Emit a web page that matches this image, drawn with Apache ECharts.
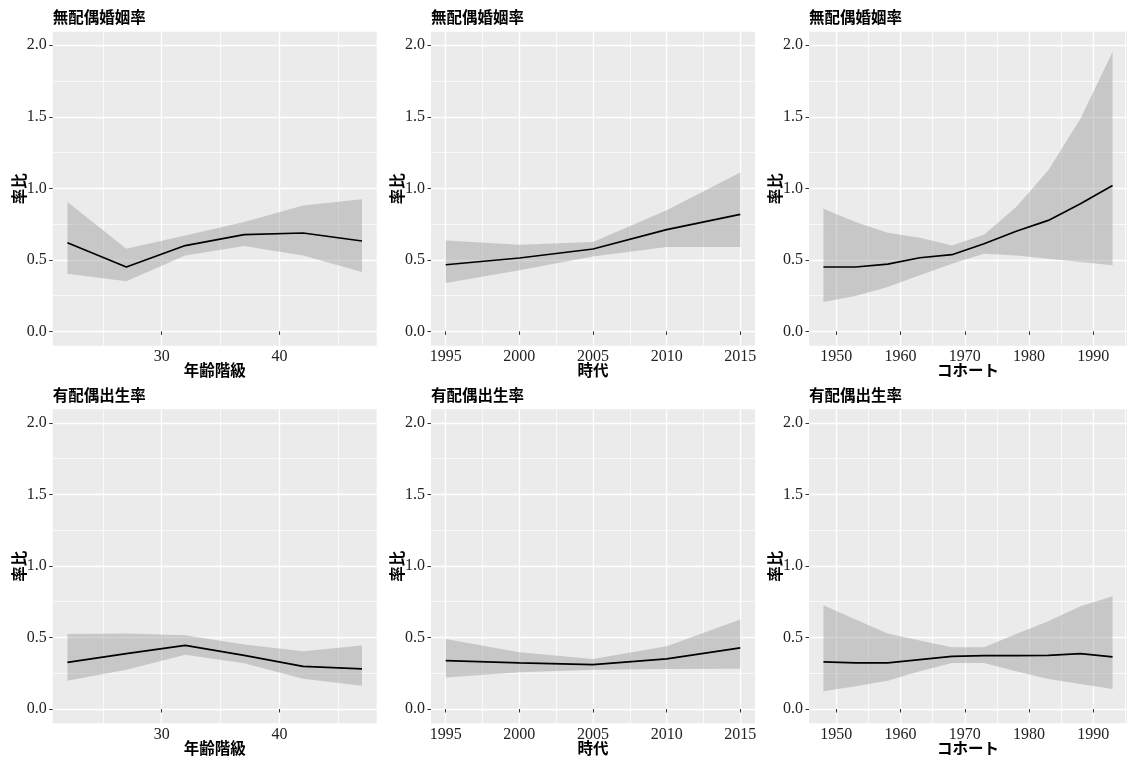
<!DOCTYPE html>
<html>
<head>
<meta charset="utf-8">
<script src="https://cdn.jsdelivr.net/npm/echarts@6/dist/echarts.min.js"></script>
<style>
  html, body { margin: 0; padding: 0; background: #fff; }
  #main { width: 1127px; height: 760px; }
</style>
</head>
<body>
<div id="main"></div>
<script>
// x values
var ages = [22, 27, 32, 37, 42, 47];
var periods = [1995, 2000, 2005, 2010, 2015];
var cohorts = [1948, 1953, 1958, 1963, 1968, 1973, 1978, 1983, 1988, 1993];

// tick labels
var ageTicks = [30, 40];
var periodTicks = [1995, 2000, 2005, 2010, 2015];
var cohortTicks = [1950, 1960, 1970, 1980, 1990];
var yTicks = [0, 0.5, 1, 1.5, 2];

// 無配偶婚姻率
var marAgeFit = [0.62, 0.45, 0.60, 0.676, 0.688, 0.632];
var marAgeHi  = [0.904, 0.578, 0.67, 0.765, 0.88, 0.923];
var marAgeLo  = [0.403, 0.35, 0.53, 0.597, 0.53, 0.415];

var marPerFit = [0.466, 0.513, 0.576, 0.711, 0.818];
var marPerHi  = [0.636, 0.606, 0.625, 0.846, 1.11];
var marPerLo  = [0.338, 0.427, 0.524, 0.59, 0.59];

var marCohFit = [0.45, 0.45, 0.47, 0.515, 0.536, 0.613, 0.70, 0.776, 0.893, 1.02];
var marCohHi  = [0.858, 0.765, 0.69, 0.655, 0.60, 0.676, 0.87, 1.126, 1.487, 1.953];
var marCohLo  = [0.205, 0.247, 0.31, 0.392, 0.473, 0.543, 0.531, 0.508, 0.485, 0.462];

// 有配偶出生率
var ferAgeFit = [0.326, 0.387, 0.445, 0.375, 0.298, 0.28];
var ferAgeHi  = [0.524, 0.527, 0.515, 0.45, 0.403, 0.443];
var ferAgeLo  = [0.198, 0.275, 0.38, 0.32, 0.212, 0.163];

var ferPerFit = [0.338, 0.322, 0.31, 0.35, 0.427];
var ferPerHi  = [0.49, 0.396, 0.35, 0.438, 0.625];
var ferPerLo  = [0.221, 0.256, 0.275, 0.28, 0.282];

var ferCohFit = [0.329, 0.322, 0.322, 0.345, 0.368, 0.373, 0.373, 0.375, 0.387, 0.364];
var ferCohHi  = [0.725, 0.625, 0.527, 0.478, 0.431, 0.431, 0.524, 0.613, 0.718, 0.788];
var ferCohLo  = [0.124, 0.159, 0.198, 0.263, 0.322, 0.322, 0.263, 0.21, 0.175, 0.14];

var panels = [
  { title: '無配偶婚姻率', xName: '年齢階級', x: ages, ticks: ageTicks, fit: marAgeFit, hi: marAgeHi, lo: marAgeLo, min: 20.75, max: 48.25, step: 10 },
  { title: '無配偶婚姻率', xName: '時代', x: periods, ticks: periodTicks, fit: marPerFit, hi: marPerHi, lo: marPerLo, min: 1994, max: 2016, step: 5 },
  { title: '無配偶婚姻率', xName: 'コホート', x: cohorts, ticks: cohortTicks, fit: marCohFit, hi: marCohHi, lo: marCohLo, min: 1945.75, max: 1995.25, step: 10 },
  { title: '有配偶出生率', xName: '年齢階級', x: ages, ticks: ageTicks, fit: ferAgeFit, hi: ferAgeHi, lo: ferAgeLo, min: 20.75, max: 48.25, step: 10 },
  { title: '有配偶出生率', xName: '時代', x: periods, ticks: periodTicks, fit: ferPerFit, hi: ferPerHi, lo: ferPerLo, min: 1994, max: 2016, step: 5 },
  { title: '有配偶出生率', xName: 'コホート', x: cohorts, ticks: cohortTicks, fit: ferCohFit, hi: ferCohHi, lo: ferCohLo, min: 1945.75, max: 1995.25, step: 10 }
];

var colLeft = [52.7, 431, 809];
var rowTop = [31.7, 409.3];
var pw = 324, ph = 314;

var cjk = '"Noto Sans CJK JP", "Noto Sans CJK SC", sans-serif';
var serif = '"Liberation Serif", "DejaVu Serif", serif';
var nameStyle = { fontFamily: cjk, fontSize: 15.5, fontWeight: 'bold', color: '#000' };

var option = {
  animation: false,
  backgroundColor: '#fff',
  title: [], grid: [], xAxis: [], yAxis: [], series: []
};

// ribbon drawn as one polygon through the axis scales
function ribbonItem(p) {
  return function (params, api) {
    if (params.dataIndex !== 0) return null;
    var upper = [], lower = [];
    for (var k = 0; k < p.x.length; k++) {
      upper.push(api.coord([p.x[k], p.hi[k]]));
      lower.unshift(api.coord([p.x[k], p.lo[k]]));
    }
    return {
      type: 'polygon',
      shape: { points: upper.concat(lower) },
      style: { fill: 'rgba(150,150,150,0.42)' },
      clipPath: {
        type: 'rect',
        shape: { x: params.coordSys.x, y: params.coordSys.y, width: params.coordSys.width, height: params.coordSys.height }
      }
    };
  };
}

panels.forEach(function (p, i) {
  var left = colLeft[i % 3], top = rowTop[Math.floor(i / 3)];
  option.title.push({
    text: p.title, left: left, top: top - 22, padding: 0,
    textStyle: nameStyle
  });
  option.grid.push({
    left: left, top: top, width: pw, height: ph,
    show: true, backgroundColor: '#EBEBEB', borderWidth: 0
  });
  option.xAxis.push({
    gridIndex: i, type: 'value', min: p.min, max: p.max,
    minInterval: p.step, maxInterval: p.step,
    name: p.xName, nameLocation: 'middle', nameGap: 17, nameMoveOverlap: false,
    nameTextStyle: nameStyle,
    axisLine: { show: false },
    axisTick: { show: true, length: 3.5, customValues: p.ticks, lineStyle: { color: '#333', width: 1 } },
    axisLabel: {
      margin: 3, fontFamily: serif, fontSize: 16, color: '#222',
      customValues: p.ticks,
      formatter: function (v) { return String(Math.round(v)); }
    },
    splitLine: { show: true, lineStyle: { color: '#fff', width: 1.3 } },
    minorTick: { show: false, splitNumber: 2 },
    minorSplitLine: { show: true, lineStyle: { color: '#fff', width: 0.7 } }
  });
  option.yAxis.push({
    gridIndex: i, type: 'value', min: -0.1, max: 2.095,
    minInterval: 0.5, maxInterval: 0.5,
    name: '率比', nameLocation: 'middle', nameGap: 26, nameMoveOverlap: false,
    nameTextStyle: nameStyle,
    axisLine: { show: false },
    axisTick: { show: true, length: 3.5, customValues: yTicks, lineStyle: { color: '#333', width: 1 } },
    axisLabel: {
      margin: 6, fontFamily: serif, fontSize: 16, color: '#222',
      customValues: yTicks,
      formatter: function (v) { return v.toFixed(1); }
    },
    splitLine: { show: true, lineStyle: { color: '#fff', width: 1.3 } },
    minorTick: { show: false, splitNumber: 2 },
    minorSplitLine: { show: true, lineStyle: { color: '#fff', width: 0.7 } }
  });
  option.series.push({
    type: 'custom', xAxisIndex: i, yAxisIndex: i, silent: true, z: 2,
    renderItem: ribbonItem(p),
    data: p.x.map(function (x, k) { return [x, p.lo[k], p.hi[k]]; }),
    encode: { x: 0, y: [1, 2] }
  });
  option.series.push({
    type: 'line', xAxisIndex: i, yAxisIndex: i, z: 5,
    data: p.x.map(function (x, k) { return [x, p.fit[k]]; }),
    showSymbol: false, symbol: 'none',
    lineStyle: { color: '#000', width: 1.7 }
  });
});

var chart = echarts.init(document.getElementById('main'));
chart.setOption(option);
</script>
</body>
</html>
